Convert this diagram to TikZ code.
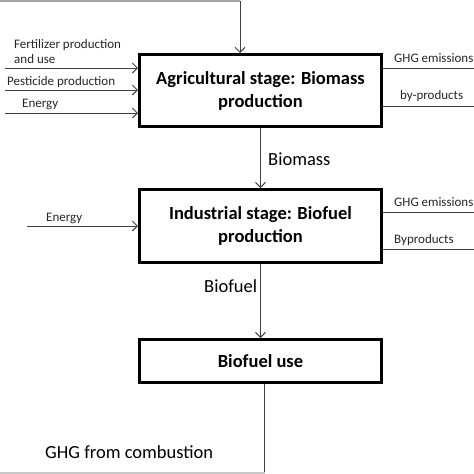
\documentclass[tikz,border=0pt]{standalone}
\usepackage{fontspec}
\setmainfont{Carlito}
\usetikzlibrary{arrows.meta, positioning}

\tikzset{
  stage/.style={draw, line width=3pt, minimum width=242, minimum height=72,
    align=center, inner sep=0pt, font=\fontsize{18.5}{23}\selectfont\bfseries},
  link/.style={draw=black!75, line width=0.9pt},
  flow/.style={link, -{Straight Barb[length=5pt, width=10pt]}},
  feed/.style={draw=black!35, line width=2pt},
  small/.style={inner sep=0pt, anchor=base west, text=black!85,
    font=\fontsize{13}{15}\selectfont},
  big/.style={inner sep=0pt, anchor=base west, font=\fontsize{18.5}{22}\selectfont},
}

\begin{document}
\begin{tikzpicture}[x=1pt, y=-1pt]
  \useasboundingbox (0,0) rectangle (474,474);

  % the three stages
  \node[stage] (agri) at (260.5,90.5) {Agricultural stage: Biomass\\production};
  \node[stage, minimum height=73] (indu) at (260.5,226) {Industrial stage: Biofuel\\production};
  \node[stage, minimum height=43] (use) at (260.5,361) {Biofuel use};

  % loop back in from the top
  \coordinate (topl) at (0,1);
  \coordinate (topr) at (240,1);
  \draw[feed] (topl) -- (topr);
  \draw[flow] (topr) -- (topr |- agri.north);

  % inputs
  \foreach \y/\nm in {68/fert, 90/pest, 113/ener} {
    \coordinate (\nm) at (5,\y);
    \draw[flow] (\nm) -- (\nm -| agri.west);
  }
  \coordinate (enerb) at (27,226);
  \draw[flow] (enerb) -- (enerb -| indu.west);

  \node[small] (fertlbl) at (14,48) {Fertilizer production};
  \node[small] (andlbl) at (14,63) {and use};
  \node[small] (pestlbl) at (7,85) {Pesticide production};
  \node[small] (enerlbl) at (22,107) {Energy};
  \node[small] (enerblbl) at (46,221) {Energy};

  % outputs
  \foreach \y/\nm in {68/ghga, 106/bypa, 212/ghgb, 249/bypb} {
    \coordinate (\nm) at (474,\y);
    \draw[link] (\nm -| agri.east) -- (\nm);
  }
  \node[small] (ghgalbl) at (394,62) {GHG emissions};
  \node[small] (bypalbl) at (400,99) {by-products};
  \node[small] (ghgblbl) at (394,206) {GHG emissions};
  \node[small] (bypblbl) at (394,243) {Byproducts};

  % main chain
  \draw[flow] (agri.south) -- (indu.north);
  \draw[flow] (indu.south) -- (use.north);
  \node[big] (biomlbl) at (268,165) {Biomass};
  \node[big] (fuellbl) at (204,292) {Biofuel};

  % combustion, going out at the bottom
  \coordinate (botr) at (264.5,473);
  \coordinate (botl) at (0,473);
  \draw[link] (use.south -| botr) -- (botr |- 0,474);
  \draw[feed, draw=black!22] (botl) -- (botr);
  \node[big] (comblbl) at (45,458) {GHG from combustion};
\end{tikzpicture}
\end{document}
